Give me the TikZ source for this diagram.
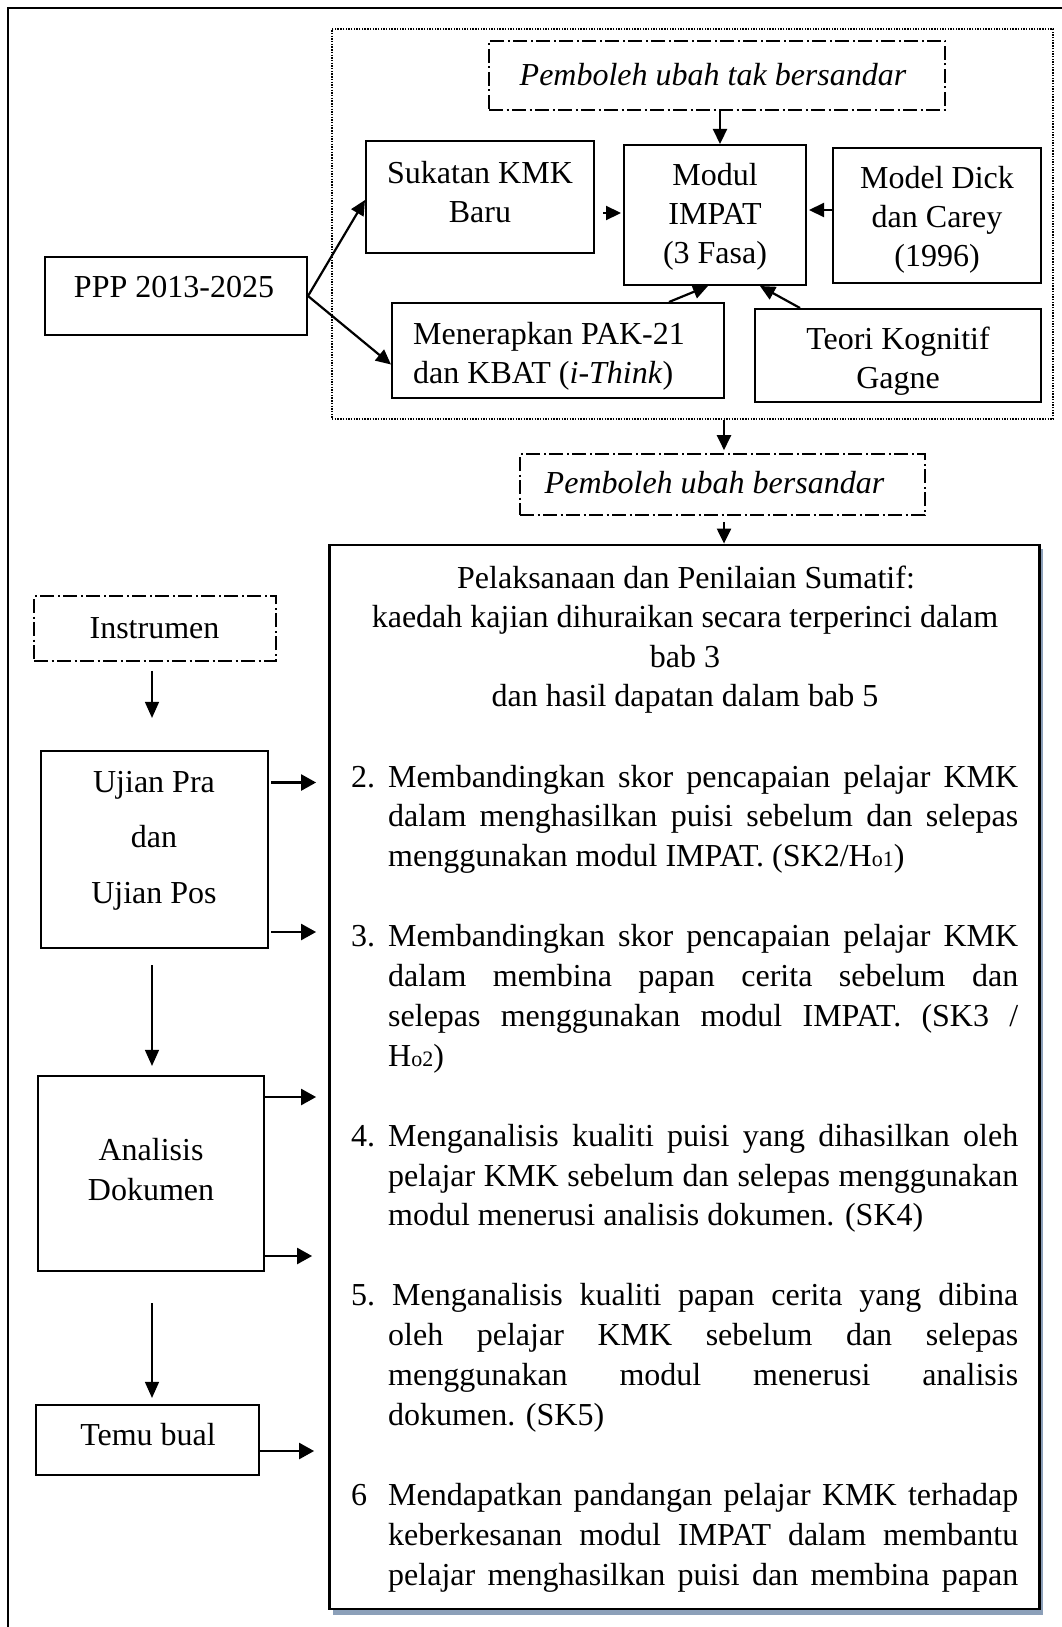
\documentclass[tikz,border=0pt]{standalone}
\usepackage{fontspec}
\setmainfont{Liberation Serif}
\usetikzlibrary{arrows.meta,calc}
\definecolor{shadowc}{RGB}{140,160,185}
\begin{document}
\begin{tikzpicture}[x=1pt,y=-1pt,
  txt/.style={inner sep=0pt, font=\fontsize{32}{39}\selectfont},
  box/.style={draw, line width=2pt, inner sep=0pt, fill=white},
  lbox/.style={draw, line width=2.2pt, inner sep=0pt, fill=white},
  ddbox/.style={draw, line width=1.6pt, dash pattern=on 14pt off 3.5pt on 2pt off 3.5pt, inner sep=0pt},
  dotbox/.style={draw, line width=1.4pt, dash pattern=on 1.4pt off 1.3pt, inner sep=0pt},
  arr/.style={line width=2.2pt, -{Triangle[length=15pt,width=14pt]}},
  varr/.style={line width=1.5pt, -{Triangle[length=16pt,width=14pt]}},
  harr/.style={line width=2.4pt, -{Triangle[length=15pt,width=16pt]}},
  jl/.style={txt, anchor=base west},
  cl/.style={txt, anchor=base},
]
\useasboundingbox (0,0) rectangle (1062,1627);
\fill[white] (0,0) rectangle (1062,1627);
\draw[line width=2.6pt] (8,1650) -- (8,8) -- (1080,8);

% ---------- top section ----------
\node[dotbox, minimum width=721pt, minimum height=390pt] (dotted) at (692.5,224) {};
\node[ddbox, minimum width=456pt, minimum height=69pt] (topdash) at (717,75.5) {};
\node[cl] (topdasht) at (713,86) {\itshape Pemboleh ubah tak bersandar};

\node[box, minimum width=228pt, minimum height=112pt] (suk) at (480,197) {};
\node[cl] (suk1) at (480,183) {Sukatan KMK};
\node[cl] (suk2) at (480,222) {Baru};

\node[box, minimum width=182pt, minimum height=140pt] (modul) at (715,215) {};
\node[cl] (mod1) at (715,185) {Modul};
\node[cl] (mod2) at (715,224) {IMPAT};
\node[cl] (mod3) at (715,263) {(3 Fasa)};

\node[box, minimum width=208pt, minimum height=135pt] (dick) at (937,215.5) {};
\node[cl] (dick1) at (937,188) {Model Dick};
\node[cl] (dick2) at (937,227) {dan Carey};
\node[cl] (dick3) at (937,266) {(1996)};

\node[box, minimum width=262pt, minimum height=78pt] (ppp) at (176,296) {};
\node[cl] (ppp1) at (174,297) {PPP 2013-2025};

\node[box, minimum width=332pt, minimum height=95pt] (men) at (558,350.5) {};
\node[jl] (men1) at (413,344) {Menerapkan PAK-21};
\node[jl] (men2) at (413,383) {dan KBAT (\textit{i-Think})};

\node[box, minimum width=286pt, minimum height=93pt] (teori) at (898,355.5) {};
\node[cl] (teori1) at (898,349) {Teori Kognitif};
\node[cl] (teori2) at (898,388) {Gagne};

\node[ddbox, minimum width=405pt, minimum height=61pt] (bers) at (722.5,484.5) {};
\node[cl] (berst) at (714.5,493) {\itshape Pemboleh ubah bersandar};

% top arrows
\draw[arr] ([xshift=3pt]topdash.south) -- ([xshift=5pt]modul.north);
\draw[arr] (ppp.east) -- ([yshift=-3pt]suk.west);
\draw[arr] (ppp.east) -- ([yshift=-14pt]men.west);
\draw[arr, shorten <=8pt, shorten >=2pt] ([yshift=-16pt]suk.east) -- ([yshift=-16pt]suk.east -| modul.west);
\draw[arr, shorten >=2pt] ([yshift=5.5pt]dick.west) -- ([yshift=5.5pt]dick.west -| modul.east);
\draw[arr] ([xshift=111pt]men.north) -- ([xshift=-7pt]modul.south);
\draw[arr] ([xshift=-98pt]teori.north) -- ([xshift=45pt]modul.south);
\draw[arr, shorten >=3pt] ([xshift=31.5pt]dotted.south) -- ([xshift=1.5pt]bers.north);

% ---------- main box ----------
\fill[shadowc] (333,549) rectangle (1043,1615);
\node[draw, line width=2.8pt, fill=white, inner sep=0pt, minimum width=710pt, minimum height=1064pt] (main) at (684.5,1077) {};
\draw[arr, shorten <=6pt] ([xshift=1.5pt]bers.south) -- ([xshift=39.5pt]main.north);

\node[cl] (h1) at (686,588) {Pelaksanaan dan Penilaian Sumatif:};
\node[cl] (h2) at (685,627) {kaedah kajian dihuraikan secara terperinci dalam};
\node[cl] (h3) at (685,667) {bab 3};
\node[cl] (h4) at (685,706) {dan hasil dapatan dalam bab 5};

\node[jl] (n2) at (351,787) {2.};
\node[jl] (i2a) at (388,787) {\makebox[630pt][s]{Membandingkan skor pencapaian pelajar KMK}};
\node[jl] (i2b) at (388,826.9) {\makebox[630pt][s]{dalam menghasilkan puisi sebelum dan selepas}};
\node[jl] (i2c) at (388,866.8) {menggunakan modul IMPAT. (SK2/H{\fontsize{22}{22}\selectfont o1})};

\node[jl] (n3) at (351,946.6) {3.};
\node[jl] (i3a) at (388,946.6) {\makebox[630pt][s]{Membandingkan skor pencapaian pelajar KMK}};
\node[jl] (i3b) at (388,986.5) {\makebox[630pt][s]{dalam membina papan cerita sebelum dan}};
\node[jl] (i3c) at (388,1026.4) {\makebox[630pt][s]{selepas menggunakan modul IMPAT. (SK3 /}};
\node[jl] (i3d) at (388,1066.3) {H{\fontsize{22}{22}\selectfont o2})};

\node[jl] (n4) at (351,1146.1) {4.};
\node[jl] (i4a) at (388,1146.1) {\makebox[630pt][s]{Menganalisis kualiti puisi yang dihasilkan oleh}};
\node[jl] (i4b) at (388,1186) {\makebox[630pt][s]{pelajar KMK sebelum dan selepas menggunakan}};
\node[jl] (i4c) at (388,1225.9) {modul menerusi analisis dokumen. (SK4)};

\node[jl] (n5) at (351,1305.7) {5.};
\node[jl] (i5a) at (392,1305.7) {\makebox[626pt][s]{Menganalisis kualiti papan cerita yang dibina}};
\node[jl] (i5b) at (388,1345.6) {\makebox[630pt][s]{oleh pelajar KMK sebelum dan selepas}};
\node[jl] (i5c) at (388,1385.5) {\makebox[630pt][s]{menggunakan modul menerusi analisis}};
\node[jl] (i5d) at (388,1425.4) {dokumen. (SK5)};

\node[jl] (n6) at (351,1505.2) {6};
\node[jl] (i6a) at (388,1505.2) {\makebox[630pt][s]{Mendapatkan pandangan pelajar KMK terhadap}};
\node[jl] (i6b) at (388,1545.1) {\makebox[630pt][s]{keberkesanan modul IMPAT dalam membantu}};
\node[jl] (i6c) at (388,1585) {\makebox[630pt][s]{pelajar menghasilkan puisi dan membina papan}};

% ---------- left column ----------
\node[ddbox, minimum width=242pt, minimum height=65pt] (instr) at (155,628.5) {};
\node[cl] (instrt) at (154.5,638) {Instrumen};

\node[lbox, minimum width=227pt, minimum height=197pt] (ujian) at (154.5,849.5) {};
\node[cl] (uj1) at (154,792) {Ujian Pra};
\node[cl] (uj2) at (154,847) {dan};
\node[cl] (uj3) at (154,903) {Ujian Pos};

\node[lbox, minimum width=226pt, minimum height=195pt] (anal) at (151,1173.5) {};
\node[cl] (an1) at (151,1160) {Analisis};
\node[cl] (an2) at (151,1200) {Dokumen};

\node[lbox, minimum width=223pt, minimum height=70pt] (temu) at (147.5,1440) {};
\node[cl] (temut) at (148,1445) {Temu bual};

\draw[varr, shorten <=9pt, shorten >=32pt] ([xshift=-3pt]instr.south) -- ([xshift=-2.5pt]ujian.north);
\draw[varr, shorten <=16pt, shorten >=9pt] ([xshift=-2.5pt]ujian.south) -- ([xshift=1pt]anal.north);
\draw[varr, shorten <=31pt, shorten >=6pt] ([xshift=1pt]anal.south) -- ([xshift=4.5pt]temu.north);

\draw[harr, shorten <=2pt, shorten >=12pt] ([yshift=67pt]ujian.east) -- ([yshift=67pt]ujian.east -| main.west);
\draw[harr, shorten <=2pt, shorten >=12pt] ([yshift=-82.5pt]ujian.east) -- ([yshift=-82.5pt]ujian.east -| main.west);
\draw[harr, shorten >=12pt] ([yshift=76.5pt]anal.east) -- ([yshift=76.5pt]anal.east -| main.west);
\draw[harr, shorten >=16pt] ([yshift=-82.5pt]anal.east) -- ([yshift=-82.5pt]anal.east -| main.west);
\draw[harr, shorten >=14pt] ([yshift=-11pt]temu.east) -- ([yshift=-11pt]temu.east -| main.west);
\end{tikzpicture}
\end{document}
